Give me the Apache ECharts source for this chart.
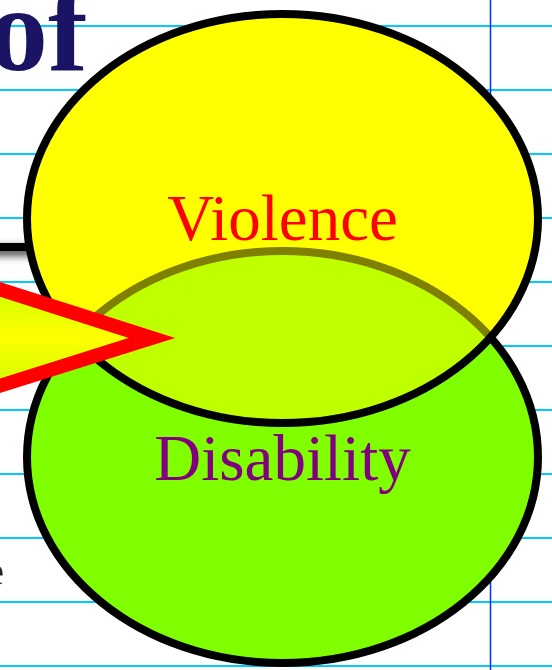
<!DOCTYPE html>
<html>
<head>
<meta charset="utf-8">
<script src="https://cdn.jsdelivr.net/npm/echarts@6/dist/echarts.min.js"></script>
<style>
html,body{margin:0;padding:0;background:#fff;}
#chart{width:552px;height:670px;}
</style>
</head>
<body>
<div id="chart"></div>
<script>
// Venn sets (in a 552 x 670 data space)
const setNames = ['Violence', 'Disability'];
const setCenterX = [282.5, 282.5];
const setCenterY = [218.5, 457];
const setRadiusX = [255.5, 255.5];
const setRadiusY = [204.5, 206];
const labelY = [223, 463];
const labelColors = ['#ff0000', '#800080'];
const setColors = ['#ffff00', '#80ff00'];

// notebook rule lines (y values) and margin line (x value)
const ruleY = [26, 90, 154, 218, 282, 346, 410, 474, 538, 602, 666];
const marginX = [490.5];

// pointer triangle vertices
const pointerX = [-20, 152, -20];
const pointerY = [283, 338, 392];

// title fragments
const titleText = ['of', 'e'];

const chart = echarts.init(document.getElementById('chart'), null, {renderer: 'canvas'});

function ell(api, i) {
  const c = api.coord([setCenterX[i], setCenterY[i]]);
  const e = api.coord([setCenterX[i] + setRadiusX[i], setCenterY[i] + setRadiusY[i]]);
  return {cx: c[0], cy: c[1], rx: Math.abs(e[0] - c[0]), ry: Math.abs(e[1] - c[1])};
}

const option = {
  animation: false,
  backgroundColor: '#ffffff',
  grid: {left: 0, right: 0, top: 0, bottom: 0},
  xAxis: {type: 'value', min: 0, max: 552, show: false},
  yAxis: {type: 'value', min: 0, max: 670, inverse: true, show: false},
  series: [
    {
      name: 'rules', type: 'custom', clip: false, z: 1,
      data: ruleY.map(y => [0, y]),
      renderItem: function (params, api) {
        const y = ruleY[params.dataIndex];
        const a = api.coord([0, y]);
        const b = api.coord([552, y]);
        return {type: 'line', shape: {x1: a[0], y1: a[1], x2: b[0], y2: b[1]},
          style: {stroke: '#00ccff', lineWidth: 2}};
      }
    },
    {
      name: 'margin', type: 'custom', clip: false, z: 1,
      data: marginX.map(x => [x, 0]),
      renderItem: function (params, api) {
        const x = marginX[params.dataIndex];
        const a = api.coord([x, 0]);
        const b = api.coord([x, 670]);
        return {type: 'line', shape: {x1: a[0], y1: a[1], x2: b[0], y2: b[1]},
          style: {stroke: '#0033ff', lineWidth: 1.5}};
      }
    },
    {
      name: 'shadow', type: 'custom', clip: false, z: 2,
      data: [[0, 243]],
      renderItem: function (params, api) {
        const a = api.coord([-40, 243]);
        const b = api.coord([40, 251]);
        return {type: 'rect', shape: {x: a[0], y: a[1], width: b[0] - a[0], height: b[1] - a[1]},
          style: {fill: '#000', shadowBlur: 8, shadowOffsetY: 4, shadowColor: 'rgba(0,0,0,0.85)'}};
      }
    },
    {
      name: 'setsBase', type: 'custom', clip: false, z: 3,
      data: setNames.map((n, i) => [setCenterX[i], setCenterY[i]]),
      renderItem: function (params, api) {
        const i = params.dataIndex;
        return {type: 'ellipse', shape: ell(api, i),
          style: {fill: setColors[i], stroke: i === 1 ? '#000' : null, lineWidth: 8}};
      }
    },
    {
      name: 'setsOverlay', type: 'custom', clip: false, z: 4,
      data: [[setCenterX[0], setCenterY[0]]],
      renderItem: function (params, api) {
        return {type: 'ellipse', shape: ell(api, 0),
          style: {fill: 'rgba(255,255,0,0.5)', stroke: '#000', lineWidth: 8}};
      }
    },
    {
      name: 'labels', type: 'custom', clip: false, z: 5,
      data: setNames.map((n, i) => [setCenterX[i], labelY[i]]),
      renderItem: function (params, api) {
        const i = params.dataIndex;
        const p = api.coord([setCenterX[i], labelY[i]]);
        return {type: 'text', x: p[0], y: p[1],
          style: {text: setNames[i], fill: labelColors[i], font: '65px "Liberation Serif", "Times New Roman", serif',
            align: 'center', verticalAlign: 'middle'}};
      }
    },
    {
      name: 'pointer', type: 'custom', clip: false, z: 6,
      data: [[pointerX[1], pointerY[1]]],
      renderItem: function (params, api) {
        const pts = pointerX.map((x, k) => api.coord([x, pointerY[k]]));
        return {type: 'polygon', shape: {points: pts},
          style: {
            fill: new echarts.graphic.LinearGradient(0, 0, 0, 1, [
              {offset: 0, color: '#c4ff00'},
              {offset: 0.5, color: '#ffff00'},
              {offset: 1, color: '#c4ff00'}
            ]),
            stroke: '#ff0000', lineWidth: 14, lineJoin: 'miter', miterLimit: 10
          }};
      }
    },
    {
      name: 'title', type: 'custom', clip: false, z: 7,
      data: [[-12, 39], [4, 574]],
      renderItem: function (params, api) {
        const i = params.dataIndex;
        if (i === 0) {
          const p = api.coord([-12, 39]);
          return {type: 'text', x: p[0], y: p[1],
            style: {text: titleText[0], fill: '#1b1464', font: 'bold 120px "Liberation Serif", "Times New Roman", serif',
              align: 'left', verticalAlign: 'middle'}};
        }
        const p = api.coord([4, 574]);
        return {type: 'text', x: p[0], y: p[1],
          style: {text: titleText[1], fill: '#222', font: '40px "Liberation Serif", serif',
            align: 'right', verticalAlign: 'middle'}};
      }
    }
  ]
};
chart.setOption(option);
</script>
</body>
</html>
